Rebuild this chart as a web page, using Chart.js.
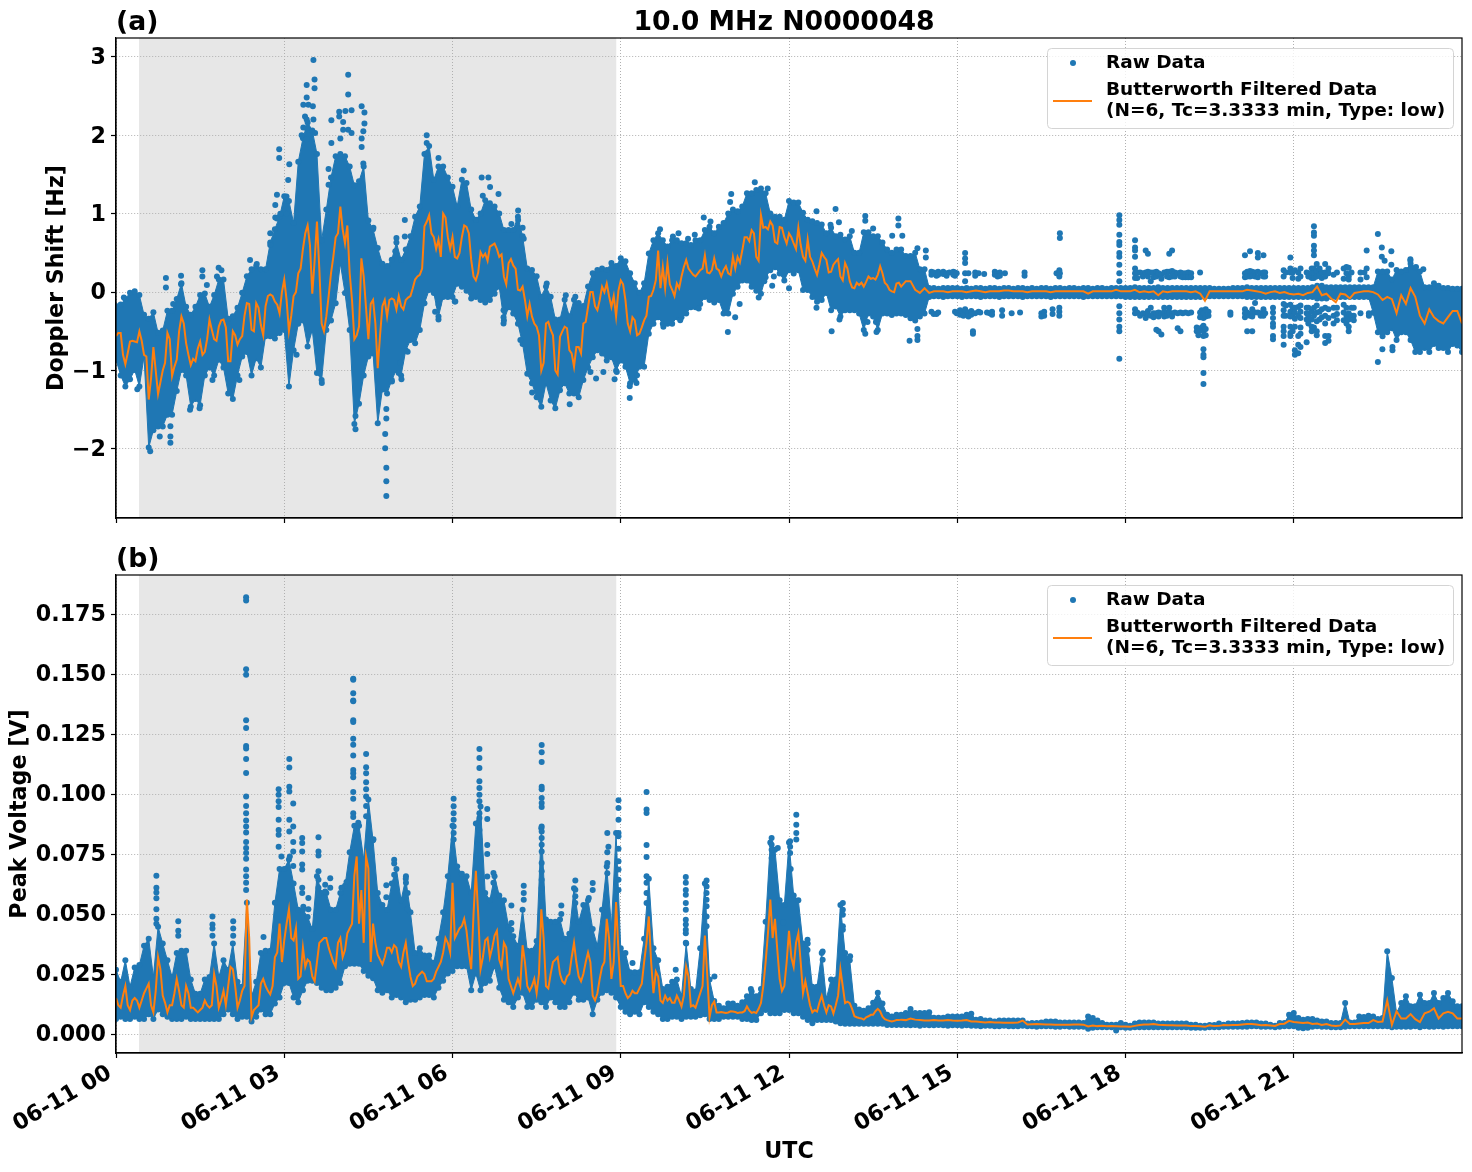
<!DOCTYPE html>
<html>
<head>
<meta charset="utf-8">
<title>10.0 MHz N0000048</title>
<script src="https://cdn.jsdelivr.net/npm/chart.js@4/dist/chart.umd.js"></script>
<style>
    html, body { margin: 0; padding: 0; background: #fff; }
    canvas { position: absolute; left: 0; }
    #dopplerChart { top: 0; }
    #voltageChart { top: 530px; }
</style>
</head>
<body>
<canvas id="dopplerChart" width="1472" height="530"></canvas>
<canvas id="voltageChart" width="1472" height="642"></canvas>
<script>
// Axis ticks
const hourTicks = [0, 3, 6, 9, 12, 15, 18, 21];
const dopplerTicks = [-2, -1, 0, 1, 2, 3];
const voltageTicks = [0, 0.025, 0.05, 0.075, 0.1, 0.125, 0.15, 0.175];

// Night-time shading, UTC hours
const shadeStart = 0.41;
const shadeEnd = 8.92;

// Doppler shift [Hz], 5 minute samples: top and bottom of the raw data band
const dopplerHigh = [
    -.14,-.12,-.05,.03,.05,0,-.25,-.3,-.22,-.48,-.45,-.2,
    -.2,-.05,.15,-.15,-.25,-.15,0,.02,-.15,0,.2,.2,
    -.3,-.27,-.16,.03,.24,.33,.37,.33,.33,.67,.84,1.0,
    1.26,1.2,.92,1.7,2.0,2.2,2.1,1.8,.7,1.09,1.5,1.77,
    1.8,1.77,1.64,1.4,1.45,1.64,.95,.84,.6,.4,.37,.45,
    .67,.45,.58,.75,1.0,1.13,1.8,1.9,1.47,1.64,1.64,1.5,
    1.38,1.13,1.47,1.43,1.09,.96,1.04,1.21,1.17,1.13,1.04,.83,
    .83,.83,1.0,.75,.34,.32,.24,-.02,.11,-.02,-.31,-.31,
    -.06,-.27,-.06,-.1,-.14,.11,.28,.32,.34,.32,.41,.37,
    .47,.43,.28,.15,.03,.15,.53,.7,.79,.7,.62,.7,
    .7,.66,.66,.64,.7,.7,.83,.87,.79,.87,.92,1.04,
    1.09,1.07,1.13,1.3,1.3,1.34,1.36,1.3,1.04,1,1,.96,
    1.2,1.18,1.18,1.05,.96,.94,.92,.9,.79,.86,.75,.77,
    .71,.75,.54,.54,.8,.8,.75,.75,.67,.58,.54,.58,
    .58,.5,.5,.54,.33,.33,.09,.09,.08,.09,.09,.09,
    .09,.08,.09,.08,.09,.09,.08,.09,.09,.08,.09,.09,
    .08,.09,.09,.08,.09,.08,.09,.09,.08,.09,.09,.08,
    .09,.09,.08,.09,.09,.08,.09,.09,.08,.09,.09,.09,
    .09,.09,.1,.09,.09,.09,.09,.1,.09,.09,.09,.09,
    .09,.09,.09,.09,.09,.09,.09,.08,.08,.08,.08,.09,
    .09,.09,.1,.09,.09,.09,.09,.09,.09,.09,.09,.09,
    .09,.09,.09,.09,.1,.12,.12,.1,.1,.1,.1,.1,
    .1,.1,.1,.1,.1,.1,.3,.3,.3,.2,.32,.3,
    .32,.4,.35,.3,.1,.1,.15,.12,.09,.09,.08,.08,.08
];
const dopplerLow = [
    -.9,-1.1,-1.24,-1.15,-1.03,-1.24,-.86,-2.02,-1.8,-1.75,-1.75,-1.6,
    -1.6,-1.3,-1.03,-1.1,-1.5,-1.4,-1.48,-1.1,-1,-1.1,-.9,-1,
    -1.33,-1.4,-1.1,-.86,-.8,-1.1,-.88,-1,-.6,-.6,-.63,-.56,
    -.52,-1.24,-.78,-.44,-.4,-.73,-.52,-1.07,-1.16,-.52,-.4,-.18,
    .33,-.05,-.52,-1.72,-1.46,-1.1,-.86,-.82,-1.71,-1.28,-1.33,-1.16,
    -1.03,-1.1,-.78,-.65,-.69,-.52,-.18,-.01,-.05,-.35,-.1,-.1,
    -.1,.07,.03,-.02,-.12,-.1,-.14,-.17,-.14,-.06,.03,-.4,
    -.23,-.31,-.44,-.7,-1.08,-1.2,-1.38,-1.5,-1.2,-1.42,-1.52,-1.29,
    -1.2,-1.33,-1.33,-1.38,-1.16,-1,-.87,-.78,-.82,-.91,-.87,-1.04,
    -.91,-.99,-1.2,-1.16,-.99,-.99,-.57,-.44,-.36,-.44,-.44,-.44,
    -.36,-.36,-.31,-.23,-.23,-.19,-.1,-.14,-.17,-.14,-.31,-.31,
    -.06,.03,.11,.11,.03,-.02,-.06,.15,.24,.28,.2,.11,
    .24,.2,.24,-.01,-.01,-.1,-.16,-.14,-.05,-.27,-.22,-.35,
    -.27,-.27,-.27,-.31,-.52,-.31,-.35,-.52,-.31,-.31,-.33,-.31,
    -.31,-.33,-.37,-.4,-.35,-.31,-.1,-.09,-.09,-.1,-.09,-.09,
    -.09,-.1,-.09,-.09,-.09,-.1,-.09,-.09,-.09,-.1,-.09,-.09,
    -.09,-.09,-.1,-.09,-.09,-.09,-.09,-.09,-.1,-.09,-.09,-.09,
    -.09,-.09,-.09,-.1,-.09,-.09,-.09,-.09,-.09,-.09,-.09,-.09,
    -.1,-.1,-.1,-.1,-.1,-.1,-.1,-.1,-.1,-.1,-.1,-.1,
    -.1,-.1,-.1,-.1,-.1,-.1,-.09,-.09,-.09,-.09,-.09,-.09,
    -.09,-.09,-.1,-.1,-.1,-.1,-.1,-.1,-.1,-.1,-.1,-.1,
    -.1,-.1,-.1,-.1,-.1,-.12,-.12,-.12,-.1,-.1,-.1,-.1,
    -.1,-.1,-.1,-.1,-.1,-.3,-.55,-.6,-.55,-.5,-.65,-.55,
    -.55,-.65,-.8,-.8,-.75,-.8,-.7,-.75,-.75,-.8,-.7,-.72,-.8
];

// Butterworth filtered Doppler shift [Hz], same 5 minute samples
const dopplerFiltered = [
    -.56,-.52,-.92,-.63,-.63,-.5,-.8,-1.37,-.7,-1.3,-1,-.52,
    -1.07,-.86,-.31,-.65,-.93,-.88,-.63,-.76,-.35,-.6,-.44,-.35,
    -.88,-.5,-.67,-.56,-.14,-.48,-.14,-.42,-.18,-.03,-.12,-.27,
    .16,-.5,-.05,.24,.55,.85,-.02,.9,-.4,-.31,.24,.7,
    1.09,.62,.24,-.6,-.44,.2,-.6,-.1,-.97,-.18,-.31,-.08,
    -.22,-.18,-.1,-.05,.16,.22,.84,.98,.7,.67,1,.7,
    .7,.43,.7,.83,.41,.15,.51,.49,.58,.62,.45,.2,
    .37,.34,.03,.07,-.31,-.31,-.44,-1,-.4,-.48,-1,-.57,
    -.44,-.74,-.95,-.7,-.4,-.19,0,-.23,.07,.11,-.19,-.31,
    .15,-.1,-.5,-.36,-.53,-.36,-.06,.03,.53,.32,.37,.03,
    .11,.2,.41,.26,.2,.28,.47,.24,.43,.28,.28,.24,
    .45,.45,.53,.7,.79,.45,.98,.83,.9,.64,.83,.7,
    .75,.62,.82,.45,.67,.39,.22,.5,.41,.26,.39,.2,
    .37,.14,.05,.09,.07,.2,.18,.22,.24,.09,.01,.11,
    .07,.14,.14,.03,-.01,.05,-.01,.01,.01,.01,0,.01,
    .01,.01,0,.01,.02,.01,0,.01,.01,.01,.02,.02,
    .01,.01,.01,.0,.01,.01,.01,.01,.0,.01,.01,.01,
    .01,.01,.01,.01,-.02,.01,.01,.01,.01,.01,.03,.01,
    .01,.01,.03,0,.01,0,.01,-.04,.01,0,.01,.01,
    .01,.01,.0,.01,-.02,-.11,.01,.01,.01,.01,.01,.01,
    .01,.01,.03,.02,.01,0,-.02,0,.01,-.01,0,-.02,
    -.03,-.02,-.04,-.01,0,.07,-.04,-.02,-.08,-.13,-.02,-.03,
    -.08,-.01,0,.01,.01,0,-.03,-.1,-.06,-.09,-.27,-.04,
    -.15,.05,-.06,-.3,-.4,-.22,-.32,-.37,-.4,-.32,-.24,-.24,-.4
];

// Extra filtered readings halfway between those samples, first 14 hours
const dopplerFilteredMid = [
    -.52,-.8,-.78,-.62,-.64,-.62,-.82,-1.1,-1.0,-1.15,-.9,-.6,
    -.95,-.5,-.4,-.8,-.85,-.72,-.8,-.6,-.48,-.62,-.36,-.45,
    -.88,-.55,-.6,-.3,-.15,-.5,-.2,-.55,-.05,-.05,-.16,0,
    -.1,-.3,0,.3,.75,.6,.4,.3,-.5,-.05,.45,.75,
    .8,.85,-.1,-.55,.43,-.2,-.15,-.4,-.55,-.1,-.1,-.1,
    -.05,-.22,-.07,.05,.2,.3,.9,.75,.55,.45,.95,.55,
    .45,.5,.85,.75,.2,.25,.45,.4,.6,.55,.48,.1,
    .42,.3,.02,-.1,-.15,-.4,-.55,-.9,-.38,-.55,-1.05,-.5,
    -.46,-.78,-.7,-.78,-.38,0,-.18,-.1,0,-.05,-.05,.02,
    .1,-.4,-.32,-.55,-.45,-.3,-.05,.15,.05,.05,.1,-.05,
    .05,.32,.3,.22,.24,.3,.25,.28,.3,.2,.33,.22,
    .3,.38,.7,.65,.75,.4,.82,.8,.85,.62,.82,.62,
    .7,.55,.6,.4,.45,.3,.35,.45,.25,.35,.42,.15,
    .3,.06,.12,.12,.13,.17,.16,.33,.12,.03,0,.12
];

// Doppler shift points standing apart from the band: [hour, values...]
const dopplerColumns = [
    [.14,-.07],[.38,-1.24],[.61,-2.03],[.78,-1.84],[.89,.18,.06],[.97,-1.71,-1.84,-1.92],[1.02,-.15],
    [1.16,.21,.1],[1.32,-1.5],[1.49,-1.48],[1.54,.28,.2],[1.62,.09],[1.72,-1.12],[1.8,.2],[1.83,.31],[1.88,.28],
    [2.2,-1.12],[2.39,.41],[2.51,.36],[2.75,.75,.6],[2.84,1.11,.95],[2.87,1.24,.94],[2.91,1.82,1.71],[2.93,1.0],
    [3.04,1.22,1.0],[3.07,1.43],[3.09,1.63],[3.22,-.8],[3.31,2.0],[3.34,2.39,2.1],[3.37,2.24],[3.4,2.64,2.48,2.2,2.09,1.95],
    [3.43,2.39],[3.51,2.37],[3.52,2.96,2.2],[3.54,2.71,2.6],[3.55,2.03],[3.67,-1.16],[3.79,1.57,1.37],[3.84,2.19,1.9],
    [3.98,2.3,2.24],[4,1.96],[4.05,2.17,2.07],[4.09,2.31],[4.14,2.77,2.52,2.07],[4.2,2.32,2.03],[4.27,-1.58,-1.75],
    [4.38,2.37,1.96,1.85],[4.41,2.05,1.64],[4.43,2.29,2.15],[4.59,.82],[4.8,-1.81,-1.99],[4.82,-1.49,-1.61,-2.24,-2.41,-2.6],
    [4.92,-1.14],[4.98,.52],[5.0,.69],[5.04,-1.03],[5.07,-.9],[5.09,-1.11],[5.15,.92,.71],[5.2,-.76],
    [5.54,2.0,1.9,1.77],[5.69,-.25],[5.75,1.71,-.16,-.35],[6.04,-.12],[6.05,-.12],[6.2,1.55],[6.52,1.46],[6.54,1.23],
    [6.64,1.46],[6.67,1.34],[6.82,1.25],[6.91,-.23,-.32,-.4],[7.05,.87],[7.17,1.04,.92],[7.21,-.61],[7.25,.82],[7.27,.68],
    [7.42,-1.28],[7.68,.11],[8.02,-.04],[8.09,-1.43],[8.19,-.06],[8.46,-1.02],[8.56,-1.1],[8.69,-1.02],[8.89,-1.11],[8.93,-1.02],
    [9.16,-1.2,-1.35],[9.28,-1.16],[9.29,-1.06],[9.7,.8],[9.76,-.44],[9.93,.71],[10.03,.75],[10.06,-.36],[10.2,.68],[10.32,.73],
    [10.39,-.21],[10.48,.95],[10.6,.9],[10.86,-.26],[10.91,-.51],[10.95,1.15],[10.97,1.25],[11.04,-.32],[11.12,-.15],
    [11.39,1.4],[11.46,-.07],[11.56,.14],[11.62,1.32],[11.7,.08],[11.73,.2],[12,.05],
    [12.49,1.03,-.2],[12.74,.86],[12.76,-.5],[12.83,1.06],[12.89,.89],[12.9,-.35],[13.12,.78],[13.36,.97,.91,-.53],[13.4,-.38],
    [13.5,.81],[13.55,-.38],[13.56,-.51],[13.84,.72],[13.95,.94,.85],[14.02,.72],[14.15,-.62],[14.29,.56,-.47,-.56,-.61],[14.44,.53,.44],
    // scattered islands either side of the quiet band
    [14.54,.26,.22,-.25],[14.58,.25,-.28],[14.63,.21,-.28],[14.66,.26,.22,-.26],[14.75,.23,.26],[14.81,.24,.21],[14.86,.25],[14.93,.26,.22],[14.96,.25,.21,-.25],
    [14.99,.24,-.27],[15.05,-.29,-.23],[15.11,-.27,-.3],[15.14,.5,.43,.37,.24,.14,-.22],[15.2,.24,-.26,-.31],[15.25,-.24,-.29],[15.28,-.53,-.5],
    [15.32,.25,.21,-.27],[15.38,.24,-.25],[15.41,-.26],[15.48,.23],[15.53,-.26],[15.58,-.27],[15.62,-.25,-.29],[15.67,.26,.22],[15.72,.24,.2],
    [15.76,.25,.21],[15.8,-.23,-.3],[15.85,.24],[15.97,-.27],[16.12,-.26],[16.2,.25,.21],[16.5,-.27,-.31],[16.55,-.25,-.3],[16.7,-.28,-.22],
    [16.77,.24],[16.82,.28,.2,-.2,-.25,-.3],[16.83,.75,.69,.24],
    [17.89,.98,.92,.86,.73,.64,.6,.5,.45,.35,.24,.14,-.18,-.27,-.35,-.44,-.5,-.85],
    [18.17,.66,.57,.53,.45,.3,.24,.18,-.27,-.22],[18.21,.25,.18,-.26],[18.26,.25,-.3],[18.31,.24,.2,-.27],[18.36,.53,.25,-.28,-.33],[18.4,.49,.26,.2,-.24,-.29],
    [18.45,.25,.14,-.2,-.3],[18.5,.25,.19,-.27,-.32],[18.55,.26,.2,-.27,-.48],[18.59,.24,-.26,-.31,-.5],[18.64,.22,.17,-.27,-.54],[18.69,.25,-.26,-.31,-.2],
    [18.74,.26,.2,-.26,-.3],[18.78,.49,.26,.19,-.26,-.2],[18.83,.53,.27,.2,-.27,-.31],[18.88,.25,.2,-.26],[18.93,.24,-.27,-.46],[18.98,.25,.2,-.26,-.5],
    [19.02,.24,.19,-.27],[19.07,.24,.19,-.26],[19.12,.25,.19,-.27],[19.17,.24,.19,-.26],[19.27,-.45,-.5],[19.3,-.5,-.55],[19.33,.25,-.26,-.32],[19.36,-.23,-.3,-.45],
    [19.39,-.27,-.33,-.43,-.5,-.56,-.73,-.8,-.83,-1.03,-1.17],[19.43,-.22,-.31,-.47,-.55],[19.48,-.25,-.3],[19.87,-.26,-.29],
    [20.13,.47,.24,.19,-.22,-.27,-.32],[20.17,.26,.2,-.26,-.5],[20.22,.52,.27,.2,-.3],[20.26,.26,.21,-.22,-.27,-.31,-.5],[20.31,.25,.2,-.14,-.26],
    [20.36,.5,.44,.26,.19,-.26],[20.41,.24,-.27,-.3],[20.46,.47,.25,.2,-.22,-.27,-.3],[20.49,.25,.2,-.27],
    [20.63,-.2,-.26,-.33,-.4,-.44,-.56,-.6],[20.82,.28,.2,-.15,-.23,-.3,-.44,-.5,-.56,-.67],[20.86,.25,-.17,-.3],[20.94,.44,.3,.25,-.16,-.25,-.31,-.44,-.52,-.56],
    [20.98,.25,.18,-.2,-.3,-.5],[21.02,.28,-.2,-.26,-.34,-.44,-.8,-.74],[21.08,.25,.17,-.19,-.3,-.56,-.67,-.78],[21.12,.3,.2,-.17,-.25,-.33,-.45,-.53,-.7],
    [21.23,.25,-.2,-.27,-.35,-.64],[21.26,.24,.2,-.2,-.3,-.4],[21.32,.3,.24,.18,-.25,-.35,-.44,-.5],[21.36,.84,.76,.72,.59,.53,.47,.3,.24,.18,-.2,-.3,-.45],
    [21.41,.36,.27,.2,-.17,-.26,-.37,-.5,-.55],[21.46,.3,.22,-.25,-.35],[21.5,.25,.18,-.22,-.32],[21.56,.36,.25,.2,-.2,-.3,-.4,-.56,-.65],[21.62,.3,.24,-.22,-.33,-.56,-.62],
    [21.71,.22,-.2,-.3,-.4],[21.77,.25,-.2,-.28,-.36],[21.89,.3,.17,-.16,-.26,-.36],[21.94,.32,.24,-.2,-.3,-.4],[21.98,.31,.2,.16,-.27,-.35,-.44,-.5],[22.03,.25,-.2,-.3],
    [22.07,-.2,-.3,-.36],[22.19,.25,.16,-.27],[22.26,.25],[22.3,.53,.3,.19],[22.34,-.27,-.3],
    [22.5,.74],[22.57,.57,.45],[22.62,.4],[22.74,.52,.35],[23.08,.42,.4],[23.18,.32],[23.31,.29],
    [22.5,-.89],[22.58,-.73],[22.76,-.7,-.74]
];

// Peak voltage [V], 5 minute samples: top and bottom of the raw data band
const voltageHigh = [
    .028,.023,.032,.021,.029,.030,.038,.041,.025,.046,.039,.032,
    .025,.035,.036,.036,.024,.018,.018,.024,.025,.039,.025,.032,
    .028,.039,.023,.021,.056,.017,.023,.035,.036,.036,.056,.070,
    .070,.074,.064,.053,.053,.050,.045,.067,.060,.060,.053,.053,
    .060,.063,.077,.088,.088,.074,.099,.082,.060,.055,.053,.064,
    .070,.057,.066,.052,.035,.037,.034,.034,.031,.041,.052,.067,
    .088,.071,.068,.067,.060,.089,.096,.060,.057,.067,.059,.057,
    .046,.042,.038,.053,.036,.036,.040,.087,.049,.048,.048,.049,
    .041,.043,.062,.048,.055,.057,.045,.038,.053,.071,.046,.085,
    .037,.035,.027,.027,.027,.041,.066,.037,.032,.020,.021,.023,
    .024,.017,.039,.020,.019,.037,.064,.024,.015,.013,.012,.014,
    .014,.013,.0145,.017,.019,.017,.020,.048,.081,.078,.057,.055,
    .081,.059,.057,.039,.039,.021,.021,.035,.016,.024,.024,.055,
    .035,.032,.013,.0115,.011,.012,.0143,.0185,.014,.0093,.0086,.0093,
    .0093,.01,.0117,.01,.01,.01,.0103,.008,.008,.008,.0086,.0086,
    .0086,.0086,.0093,.0097,.0072,.0075,.0069,.0069,.0065,.0069,.0069,.0069,
    .0069,.0069,.0069,.0056,.0058,.0058,.0061,.0065,.0065,.0065,.0061,.0061,
    .0061,.0061,.0061,.0058,.0086,.0079,.0069,.0058,.0051,.0051,.0051,.0058,
    .0051,.0047,.0056,.0061,.0061,.0061,.0061,.0056,.0056,.0056,.0056,.0056,
    .0056,.0056,.0051,.0051,.0047,.0047,.005,.005,.0056,.0051,.0056,.0056,
    .0056,.0058,.0061,.0061,.0061,.0056,.0056,.0051,.0047,.0058,.0058,.0093,
    .01,.0079,.0072,.0075,.0075,.0069,.0065,.0065,.0058,.0058,.0058,.0142,
    .0061,.0061,.0086,.0083,.0089,.0086,.0075,.0079,.0357,.0246,.01,.0142,
    .017,.0128,.0128,.0176,.0142,.0142,.0183,.0142,.0163,.0183,.0149,.0128,.0128
];
const voltageLow = [
    .005,.006,.005,.005,.006,.005,.005,.007,.005,.009,.007,.006,
    .005,.005,.005,.006,.005,.005,.005,.005,.005,.005,.005,.007,
    .009,.007,.005,.006,.006,.004,.006,.009,.007,.007,.0115,.014,
    .020,.020,.014,.012,.017,.021,.021,.020,.018,.017,.017,.018,
    .020,.027,.028,.028,.028,.025,.023,.022,.017,.016,.017,.014,
    .015,.014,.012,.013,.013,.014,.015,.015,.014,.018,.021,.024,
    .025,.027,.027,.027,.017,.024,.017,.020,.021,.027,.018,.013,
    .012,.010,.014,.016,.010,.010,.013,.012,.010,.014,.012,.010,
    .010,.012,.016,.013,.013,.014,.007,.013,.016,.017,.016,.014,
    .010,.008,.007,.008,.007,.012,.010,.008,.007,.005,.005,.006,
    .006,.005,.006,.006,.006,.0066,.007,.005,.005,.005,.006,.006,
    .006,.006,.005,.005,.0046,.0046,.0074,.0088,.0074,.0074,.0074,.0088,
    .0088,.0074,.0074,.006,.0046,.0032,.0046,.0046,.0046,.0046,.004,.0032,
    .003,.003,.003,.003,.003,.003,.003,.003,.003,.0025,.0025,.0025,
    .0025,.0025,.0024,.0025,.0022,.0025,.0024,.0024,.0025,.0024,.0022,.0024,
    .0024,.0022,.0024,.0022,.0022,.002,.0022,.0022,.002,.002,.0022,.002,
    .002,.002,.0022,.002,.002,.0018,.002,.002,.002,.0018,.0018,.002,
    .0018,.0018,.0018,.0018,.001,.0014,.0016,.0016,.0016,.0016,.0002,.0016,
    .0014,.0014,.0016,.0016,.0016,.0016,.0016,.0016,.0016,.0016,.0016,.0016,
    .0016,.0016,.0014,.0014,.0014,.0014,.0016,.0016,.0016,.0018,.0018,.0018,
    .0018,.0018,.0018,.002,.002,.0018,.0018,.0018,.0016,.0018,.002,.002,
    .002,.0014,.0012,.0014,.0018,.002,.0018,.0018,.0016,.0016,.0016,.0018,
    .002,.002,.002,.002,.002,.002,.002,.002,.002,.0016,.0018,.0018,
    .0018,.0018,.002,.0016,.002,.0018,.0018,.002,.0018,.002,.002,.002,.002
];

// Butterworth filtered peak voltage [V], same 5 minute samples
const voltageFiltered = [
    .015,.011,.020,.010,.015,.011,.017,.021,.009,.032,.016,.009,
    .012,.023,.012,.020,.011,.010,.010,.014,.011,.025,.011,.018,
    .020,.027,.011,.018,.056,.007,.011,.021,.020,.0165,.032,.046,
    .039,.052,.039,.023,.036,.031,.024,.030,.039,.040,.033,.028,
    .040,.035,.044,.066,.046,.038,.069,.046,.033,.029,.036,.034,
    .036,.028,.038,.024,.021,.025,.025,.022,.023,.028,.034,.038,
    .063,.042,.045,.043,.027,.068,.027,.039,.032,.041,.031,.038,
    .023,.017,.023,.037,.020,.020,.017,.052,.020,.025,.031,.025,
    .021,.025,.038,.024,.025,.034,.016,.017,.028,.048,.023,.055,
    .020,.017,.016,.017,.019,.030,.049,.017,.024,.013,.014,.013,
    .016,.0115,.028,.0115,.011,.017,.041,.007,.0135,.009,.009,.009,
    .0094,.0088,.009,.0115,.0088,.0088,.0129,.030,.056,.048,.023,.020,
    .043,.028,.042,.017,.017,.009,.0094,.016,.009,.0115,.012,.027,
    .0129,.0129,.0074,.0067,.006,.0074,.008,.0105,.0072,.0058,.0052,.0058,
    .006,.0058,.0065,.006,.0058,.0056,.0056,.0058,.0056,.0056,.0058,.0056,
    .0055,.0056,.0058,.0052,.0052,.005,.0048,.005,.0048,.0048,.0047,.0047,
    .0047,.0048,.0056,.004,.0041,.0042,.0041,.004,.004,.0039,.0039,.0039,
    .0039,.004,.004,.0039,.0032,.0036,.0033,.0035,.0032,.0033,.0032,.0031,
    .0031,.003,.0034,.0038,.004,.004,.0042,.0039,.0038,.0037,.0037,.0036,
    .0036,.0036,.0033,.0033,.0032,.003,.0036,.0033,.0034,.0038,.0037,.0038,
    .0038,.004,.0042,.0042,.004,.0037,.0038,.0036,.0034,.0042,.0043,.0055,
    .005,.0048,.0046,.0048,.0042,.0044,.0038,.0042,.0036,.0034,.0036,.006,
    .0042,.0042,.0044,.0046,.0046,.0058,.005,.0052,.014,.0038,.0095,.0065,
    .0065,.0083,.0062,.005,.0086,.0093,.0107,.0065,.0086,.0093,.0086,.0065,.0065
];

// Extra filtered readings halfway between those samples, first 14 hours
const voltageFilteredMid = [
    .012,.016,.012,.014,.014,.014,.019,.012,.018,.027,.013,.012,
    .017,.018,.011,.017,.011,.009,.011,.012,.012,.02,.014,.012,
    .028,.02,.014,.020,.04,.01,.012,.023,.018,.02,.034,.030,
    .046,.040,.044,.024,.028,.03,.022,.038,.04,.036,.030,.038,
    .032,.042,.046,.074,.060,.074,.03,.038,.031,.032,.036,.037,
    .03,.034,.03,.02,.024,.026,.022,.022,.026,.03,.04,.034,
    .04,.044,.048,.034,.05,.05,.032,.04,.036,.043,.028,.036,
    .02,.02,.02,.03,.018,.023,.025,.04,.019,.03,.032,.022,
    .024,.032,.03,.022,.03,.03,.014,.023,.03,.04,.03,.035,
    .02,.015,.018,.017,.021,.038,.03,.026,.014,.016,.015,.013,
    .014,.016,.024,.012,.014,.020,.025,.012,.009,.0092,.0088,.0095,
    .0092,.009,.0095,.0098,.0092,.0105,.02,.042,.04,.035,.018,.03,
    .032,.038,.03,.022,.012,.01,.013,.012,.012,.0085,.016,.02,
    .0135,.0105,.007,.0065,.007,.008,.0095,.0095,.0062,.0055,.0055,.0058
];

// Peak voltage points standing above the band: [hour, values...]
const voltageColumns = [
    [.72,.066,.061,.059,.0566,.052,.048,.046],[1.11,.047,.043,.041],[1.72,.049,.0456,.044,.041],[2.09,.047,.044,.041],
    [2.32,.182,.1806,.152,.1497,.1307,.1275,.120,.119,.1146,.1088,.099,.095,.092,.089,.0865,.084,.080,.0775,.0754,.073,.0685,.0657,.063,.060],
    [2.63,.0404],[2.9,.102,.0997,.097,.0946,.0893,.085,.083,.078],[2.95,.074],[3.09,.1146,.111,.103,.101,.0893,.0844],[3.1,.074],
    [3.16,.096,.0865,.080,.076,.07],[3.32,.0817,.0796,.076,.0706,.0685,.061,.0588],[3.34,.053],[3.43,.0567,.052],
    [3.61,.082,.076,.0744,.0678,.0643,.061,.058],[3.73,.0622,.0594],[3.82,.0649,.061],[4.02,.061],[4.11,.0633],
    [4.23,.148,.1476,.142,.139,.1386,.1307,.13,.123,.1205,.116,.110,.1087,.107,.1008,.098,.092,.0904],[4.32,.088],
    [4.46,.1167,.1112,.1087,.1049,.102,.099,.095,.0907],[4.59,.0812],[4.82,.062,.057],[4.96,.0726,.071,.0664],[5.17,.0657,.063],[5.2,.0588,.052],
    [6.02,.098,.0949,.092,.0893,.0865,.0838,.081],[6.48,.1188,.115,.1108,.1053,.1025,.0997,.097,.092,.09,.085,.081],
    [6.62,.0938,.0896,.0788,.075,.0656],[6.73,.0671,.063],[7.05,.0536,.0463,.0435],[7.27,.0618,.0588,.056],
    [7.59,.1204,.1174,.1133,.103,.102,.0983,.0963,.0946,.0865,.0844,.0817,.0789,.0761,.0713,.0678,.0643,.0608,.0574],
    [7.94,.0536,.05],[8.19,.064,.0601,.0574,.0546],[8.43,.0567],[8.5,.0629,.06],[8.76,.0838,.0757,.0713,.067],[8.78,.078],
    [8.96,.0974,.0942,.0893,.0838,.0824,.0772,.072,.0685,.0643,.06],[9.21,.0296],
    [9.46,.1008,.0935,.0921,.0788,.0738,.0657,.063,.0588,.0546],[9.98,.0268],
    [10.16,.0654,.063,.06,.058,.0546,.0518,.0476,.0456,.0435,.042,.038],[10.53,.064,.0615,.0588,.056,.0532,.049,.0449],[10.67,.024],
    [11.32,.0188],[11.69,.0817,.0789,.0768,.0733],[11.8,.0775],[11.9,.0465],[12.02,.0803,.078,.0754],[12.03,.0688],
    [12.13,.0914,.0872,.0838,.081],[12.33,.0393,.035],[12.6,.0344,.031],[12.96,.0546,.0518,.0497,.0449,.0435],[13.09,.0324]
];

const RAW_COLOR = '#1f77b4';
const FILTER_COLOR = '#ff7f0e';
const TICK_FONT = { family: '"DejaVu Sans"', size: 22.2, weight: 'bold' };
const DOT_RADIUS = 3;

function hourLabel(h) {
    return '06-11 ' + String(h).padStart(2, '0');
}

// shift: the band edges are the outsides of the dots, so centres sit a dot radius inside
function toPoints(values, shift = 0) {
    return values.map((v, i) => ({ x: i / 12, y: v + shift }));
}

function filteredPoints(values, mids) {
    const midPoints = mids.map((v, i) => ({ x: (i + 0.5) / 12, y: v }));
    return toPoints(values).concat(midPoints).sort((a, b) => a.x - b.x);
}

function columnPoints(columns) {
    return columns.flatMap(([h, ...values]) => values.map(v => ({ x: h, y: v })));
}

// Shading, panel headings, frame and legend for one panel
const panelPlugin = {
    id: 'panel',
    beforeDraw(chart) {
        const { ctx, chartArea, scales } = chart;
        ctx.save();
        ctx.fillStyle = '#e7e7e7';
        const x0 = scales.x.getPixelForValue(shadeStart);
        const x1 = scales.x.getPixelForValue(shadeEnd);
        ctx.fillRect(x0, chartArea.top, x1 - x0, chartArea.bottom - chartArea.top);
        ctx.restore();
    },
    afterDatasetsDraw(chart, args, opts) {
        const { ctx, chartArea } = chart;
        const { left, right, top, bottom } = chartArea;
        ctx.save();

        // legend box
        const boxX = 1047, boxY = top + 10, boxW = 406, boxH = 80;
        ctx.beginPath();
        ctx.roundRect(boxX + 0.5, boxY + 0.5, boxW, boxH, 4);
        ctx.fillStyle = 'rgba(255,255,255,0.8)';
        ctx.fill();
        ctx.strokeStyle = '#d4d4d4';
        ctx.lineWidth = 1;
        ctx.stroke();

        ctx.beginPath();
        ctx.arc(1073, boxY + 15, 3, 0, Math.PI * 2);
        ctx.fillStyle = RAW_COLOR;
        ctx.fill();

        ctx.beginPath();
        ctx.moveTo(1053, boxY + 53);
        ctx.lineTo(1092, boxY + 53);
        ctx.strokeStyle = FILTER_COLOR;
        ctx.lineWidth = 2;
        ctx.stroke();

        ctx.fillStyle = '#000';
        ctx.font = 'bold 18.5px "DejaVu Sans"';
        ctx.textAlign = 'left';
        ctx.textBaseline = 'middle';
        ctx.fillText('Raw Data', 1106, boxY + 15.5);
        ctx.fillText('Butterworth Filtered Data', 1106, boxY + 42.5);
        ctx.fillText('(N=6, Tc=3.3333 min, Type: low)', 1106, boxY + 63.5);

        // frame
        ctx.strokeStyle = '#000';
        ctx.lineWidth = 1.2;
        ctx.strokeRect(left, top, right - left, bottom - top);

        // headings
        ctx.font = 'bold 26.7px "DejaVu Sans"';
        ctx.textBaseline = 'alphabetic';
        ctx.fillText(opts.tag, left, top - 8);
        if (opts.title) {
            ctx.textAlign = 'center';
            ctx.fillText(opts.title, 784, top - 8);
        }
        ctx.restore();
    }
};

function buildChart(canvasId, cfg) {
    return new Chart(document.getElementById(canvasId), {
        type: 'line',
        data: {
            datasets: [
                {
                    label: 'Butterworth Filtered Data',
                    data: filteredPoints(cfg.filtered, cfg.filteredMid),
                    borderColor: FILTER_COLOR,
                    borderWidth: 2,
                    pointRadius: 0,
                    order: 0
                },
                {
                    label: 'Raw Data',
                    data: columnPoints(cfg.columns),
                    showLine: false,
                    pointRadius: DOT_RADIUS,
                    pointBorderWidth: 0,
                    pointBackgroundColor: RAW_COLOR,
                    order: 1
                },
                {
                    label: 'Raw Data',
                    data: toPoints(cfg.high, -cfg.dotInset),
                    borderColor: RAW_COLOR,
                    borderWidth: 1,
                    pointRadius: DOT_RADIUS,
                    pointBorderWidth: 0,
                    pointBackgroundColor: RAW_COLOR,
                    backgroundColor: RAW_COLOR,
                    fill: '+1',
                    order: 2
                },
                {
                    label: 'Raw Data',
                    data: toPoints(cfg.low, cfg.dotInset),
                    borderColor: RAW_COLOR,
                    borderWidth: 1,
                    pointRadius: DOT_RADIUS,
                    pointBorderWidth: 0,
                    pointBackgroundColor: RAW_COLOR,
                    order: 3
                }
            ]
        },
        options: {
            responsive: false,
            animation: false,
            devicePixelRatio: 1,
            layout: { padding: { top: cfg.padTop, right: 10, left: 0, bottom: 0 } },
            plugins: {
                legend: { display: false },
                tooltip: { enabled: false },
                panel: { tag: cfg.tag, title: cfg.title }
            },
            scales: {
                x: {
                    type: 'linear',
                    min: 0,
                    max: 24,
                    afterBuildTicks(scale) {
                        scale.ticks = hourTicks.map(h => ({ value: h }));
                    },
                    afterFit(scale) {
                        scale.height = cfg.xHeight;
                        scale.paddingLeft = 0;
                        scale.paddingRight = 0;
                    },
                    ticks: {
                        display: cfg.showHours,
                        autoSkip: false,
                        maxRotation: 30,
                        minRotation: 30,
                        padding: 2,
                        labelOffset: -6,
                        color: '#000',
                        font: TICK_FONT,
                        callback: hourLabel
                    },
                    grid: {
                        color: '#b0b0b0',
                        lineWidth: 1,
                        tickColor: '#000',
                        tickWidth: 1.2,
                        tickLength: 5
                    },
                    border: { display: true, color: '#000', width: 1.2, dash: [1, 2] },
                    title: {
                        display: cfg.showHours,
                        text: 'UTC',
                        color: '#000',
                        font: TICK_FONT,
                        padding: { top: 0, bottom: 6 }
                    }
                },
                y: {
                    min: cfg.yMin,
                    max: cfg.yMax,
                    afterBuildTicks(scale) {
                        scale.ticks = cfg.yTicks.map(v => ({ value: v }));
                    },
                    afterFit(scale) {
                        scale.width = 116;
                        scale.paddingTop = 0;
                        scale.paddingBottom = 0;
                    },
                    ticks: {
                        padding: 5,
                        labelOffset: 1.5,
                        color: '#000',
                        font: TICK_FONT,
                        callback: cfg.yLabel
                    },
                    grid: {
                        color: '#b0b0b0',
                        lineWidth: 1,
                        tickColor: '#000',
                        tickWidth: 1.2,
                        tickLength: 5
                    },
                    border: { display: true, color: '#000', width: 1.2, dash: [1, 2] },
                    title: {
                        display: true,
                        text: cfg.yTitle,
                        color: '#000',
                        font: TICK_FONT,
                        padding: { top: cfg.yTitlePad, bottom: 0 }
                    }
                }
            }
        },
        plugins: [panelPlugin]
    });
}

buildChart('dopplerChart', {
    tag: '(a)',
    title: '10.0 MHz N0000048',
    high: dopplerHigh,
    low: dopplerLow,
    filtered: dopplerFiltered,
    filteredMid: dopplerFilteredMid,
    columns: dopplerColumns,
    dotInset: 0.038,
    padTop: 38,
    xHeight: 12,
    showHours: false,
    yMin: -2.88,
    yMax: 3.24,
    yTicks: dopplerTicks,
    yLabel: v => String(v).replace('-', '\u2212'),
    yTitle: 'Doppler Shift [Hz]',
    yTitlePad: 44
});

buildChart('voltageChart', {
    tag: '(b)',
    title: '',
    high: voltageHigh,
    low: voltageLow,
    filtered: voltageFiltered,
    filteredMid: voltageFilteredMid,
    columns: voltageColumns,
    dotInset: 0.00125,
    padTop: 45,
    xHeight: 119,
    showHours: true,
    yMin: -0.0079,
    yMax: 0.19125,
    yTicks: voltageTicks,
    yLabel: v => v.toFixed(3),
    yTitle: 'Peak Voltage [V]',
    yTitlePad: 7
});
</script>
</body>
</html>
